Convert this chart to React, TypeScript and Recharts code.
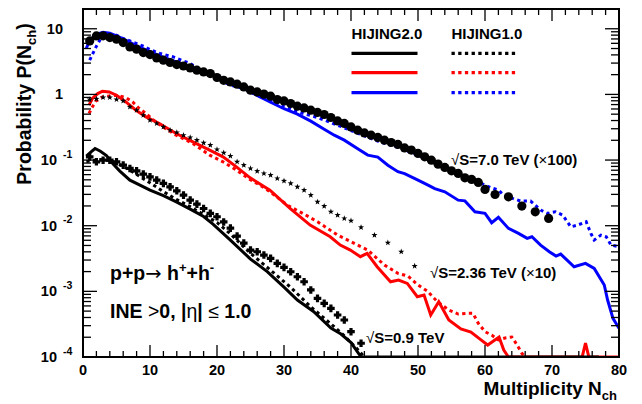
import { ComposedChart, Line, Scatter, XAxis, YAxis } from 'recharts'

const FONT = '"Liberation Sans", Arial, Helvetica, sans-serif'
const BLUE = '#0000ff'
const RED = '#ff0000'
const BLACK = '#000000'

// frame of the pad
const PAD_LEFT = 83
const PAD_TOP = 9
const PAD_RIGHT = 619
const PAD_BOTTOM = 357

type Pt = [number, number]

// multiplicity axis
const xTickValues = [0, 2, 4, 6, 8, 10, 12, 14, 16, 18, 20, 22, 24, 26, 28, 30, 32, 34, 36, 38, 40,
  42, 44, 46, 48, 50, 52, 54, 56, 58, 60, 62, 64, 66, 68, 70, 72, 74, 76, 78, 80]
const xMajorTicks = [0, 10, 20, 30, 40, 50, 60, 70, 80]

// probability axis (log), labels as base + exponent
const yMajorTicks = [0.0001, 0.001, 0.01, 0.1, 1, 10]
const yTickBase = ['10', '10', '10', '10', '1', '10']
const yTickExp = ['-4', '-3', '-2', '-1', '', '']
const yMinorSteps = [2, 3, 4, 5, 6, 7, 8, 9]
const yTickValues = [
  ...yMajorTicks,
  ...yMajorTicks.flatMap((d) => yMinorSteps.map((m) => m * d)).filter((v) => v < 20),
]

// sqrt(s) = 7.0 TeV (x100)
const hij20_7: Pt[] = [
  [0.5, 5.05], [1, 6.68], [2, 8.25], [3, 8.85], [4, 8.55], [5, 7.82], [6, 7.05], [7, 6.23], [8, 5.51],
  [10, 4.47], [12, 3.68], [14, 3.09], [16, 2.64], [18, 2.25], [20, 1.89], [22, 1.56], [24, 1.24],
  [26.5, 0.906], [28, 0.76], [30, 0.605], [32, 0.5], [34, 0.391], [36, 0.295], [37.5, 0.239], [39, 0.201],
  [41, 0.149], [42.5, 0.119], [44, 0.111], [45.5, 0.0836], [47, 0.0666], [48, 0.0621], [50, 0.0494],
  [51.5, 0.0415], [52.5, 0.0367], [54, 0.0328], [56, 0.0245], [57, 0.0239], [58.5, 0.0163], [60, 0.0154],
  [61, 0.0111], [62, 0.0134], [63.5, 0.0091], [65, 0.00764], [66.3, 0.00641], [67, 0.00678],
  [68.3, 0.00507], [69.6, 0.00401], [70.6, 0.00344], [71.3, 0.0037], [73.3, 0.00237], [75, 0.00267],
  [76.3, 0.00224], [77.8, 0.00125], [78.3, 0.000738], [79.1, 0.000388], [80, 0.000274],
]
const hij10_7: Pt[] = [
  [1, 3.32], [1.5, 4.24], [2, 5.42], [2.5, 6.68], [3, 7.5], [4, 8.25], [5, 7.96], [6, 7.1], [7, 6.52],
  [9, 5.42], [10, 4.82], [11.5, 4.2], [13.5, 3.72], [16, 2.95], [19, 1.96], [22, 1.38], [24, 1.23],
  [26, 0.972], [29, 0.71], [32, 0.542], [35, 0.445], [38, 0.34], [41, 0.256], [44, 0.194], [47, 0.156],
  [50, 0.119], [52.5, 0.0897], [55, 0.0702], [57, 0.0555], [59, 0.0461], [60.8, 0.0383], [62, 0.0348],
  [62.8, 0.0292], [64.1, 0.0261], [65.3, 0.0237], [66.8, 0.0237], [67.5, 0.0206], [68.3, 0.0173],
  [69.3, 0.0154], [70.5, 0.0163], [71.6, 0.0145], [72.8, 0.00962], [73.8, 0.0102], [75.1, 0.0115],
  [75.8, 0.00764], [76.3, 0.00604], [77.3, 0.00719], [78.1, 0.00678], [78.8, 0.00507], [80, 0.00478],
]
const data_7: Pt[] = [
  [1, 6.52], [2, 7.77], [3, 7.8], [4, 7.35], [5, 6.92], [6, 6.17], [7, 5.28], [8, 4.88], [9, 4.34],
  [10, 4.05], [11, 3.59], [12, 3.32], [13, 3.06], [14, 2.85], [15, 2.71], [16, 2.53], [17, 2.34],
  [18, 2.2], [19, 2.08], [20, 1.81], [21, 1.64], [22, 1.55], [23, 1.43], [24, 1.3], [25, 1.16],
  [26, 1.09], [27, 1.01], [28, 0.94], [29, 0.836], [30, 0.796], [31, 0.727], [32, 0.661], [33, 0.623],
  [34, 0.575], [35, 0.531], [36, 0.494], [37, 0.445], [38, 0.395], [39, 0.361], [40, 0.32], [41, 0.285],
  [42, 0.259], [43, 0.239], [44, 0.221], [45, 0.201], [46, 0.185], [47, 0.173], [48, 0.153], [49, 0.142],
  [50, 0.126], [51, 0.112], [52, 0.0995], [53, 0.0867], [54, 0.0771], [55, 0.0685], [56, 0.0625],
  [57, 0.0536], [58, 0.0507], [59, 0.0456], [60, 0.0357], [61.5, 0.0299], [63.5, 0.0275],
  [65.5, 0.0199], [67.5, 0.0163], [69.5, 0.0129],
]

// sqrt(s) = 2.36 TeV (x10)
const hij20_236: Pt[] = [
  [0.9, 0.685], [1.4, 0.867], [2.2, 1.03], [2.9, 1.12], [3.9, 1.09], [5, 0.972], [6.4, 0.769],
  [7.9, 0.575], [9.4, 0.455], [11.4, 0.361], [13.9, 0.254], [16.4, 0.189], [18.9, 0.142], [20.9, 0.112],
  [22.9, 0.0787], [24.9, 0.054], [27.9, 0.0348], [30.9, 0.0183], [33.9, 0.0102], [36.9, 0.00678],
  [38.4, 0.00507], [39.9, 0.00426], [41.4, 0.00337], [42.4, 0.00379], [43.9, 0.00237], [45.9, 0.0014],
  [47.1, 0.00149], [48.4, 0.00132], [49.9, 0.000828], [50.9, 0.000879], [51.9, 0.000436],
  [53.1, 0.000695], [54.6, 0.000366], [56.4, 0.000267], [57.9, 0.00024], [59.4, 0.000182],
  [60.4, 0.000152], [62.1, 0.000201], [62.8, 0.000128], [63.5, 0.0001], [74.5, 0.0001],
  [75, 0.000163], [75.5, 0.0001], [80, 0.0001],
]
const hij10_236: Pt[] = [
  [0.9, 0.512], [1.4, 0.646], [1.9, 0.787], [2.9, 0.916], [4.9, 0.972], [6.4, 0.897], [7.4, 0.769],
  [8.4, 0.61], [9.4, 0.512], [10.4, 0.415], [11.9, 0.32], [13.9, 0.239], [16.4, 0.179], [18.9, 0.119],
  [20.9, 0.094], [22.9, 0.0702], [24.9, 0.0507], [26.4, 0.0415], [28, 0.0324], [30.5, 0.0206],
  [33, 0.015], [35, 0.0115], [38, 0.00719], [41, 0.00507], [42.5, 0.00426], [45, 0.00251],
  [47, 0.00188], [48.5, 0.00171], [50, 0.00125], [51.4, 0.00101], [52.9, 0.000695], [54.6, 0.000519],
  [56, 0.000451], [57.4, 0.000462], [58.2, 0.000462], [59, 0.000326], [60, 0.000243], [61, 0.000216],
  [62, 0.000182], [63, 0.000195], [64, 0.000201], [64.8, 0.000152], [65.5, 0.000114], [66, 0.0001],
]
const data_236: Pt[] = [
  [1, 0.836], [2, 0.855], [3, 0.897], [4, 0.897], [5, 0.836], [6, 0.796], [7, 0.646], [8, 0.575],
  [9, 0.482], [10, 0.405], [11, 0.361], [12, 0.32], [13, 0.285], [14, 0.263], [15, 0.239], [16, 0.221],
  [17, 0.201], [18, 0.183], [19, 0.169], [20, 0.145], [21, 0.129], [22, 0.115], [23, 0.094],
  [24, 0.0836], [25, 0.0745], [26, 0.0678], [27, 0.0625], [28, 0.0589], [29, 0.0525], [30, 0.0482],
  [31, 0.0441], [32, 0.0391], [33, 0.0348], [34, 0.0292], [35, 0.0231], [36, 0.0199], [37, 0.0163],
  [38, 0.0145], [39, 0.0129], [40, 0.0119], [41.5, 0.00942], [43.5, 0.00719], [45.5, 0.0055],
  [47.5, 0.00401], [49.5, 0.00243],
]

// sqrt(s) = 0.9 TeV
const hij20_09: Pt[] = [
  [0.5, 0.115], [1.2, 0.133], [1.8, 0.15], [2.6, 0.136], [3.5, 0.117], [4.5, 0.0867], [5.5, 0.0678],
  [7, 0.0494], [8.5, 0.0415], [10, 0.0348], [12, 0.0287], [14, 0.0229], [16, 0.0179], [18, 0.0138],
  [19.4, 0.0106], [22, 0.00604], [25, 0.0031], [27.5, 0.002], [30, 0.00116], [32, 0.000738],
  [34.4, 0.000493], [37, 0.000276], [38.5, 0.000224], [40, 0.000166], [41.5, 0.0001], [77, 0.0001],
]
const hij10_09: Pt[] = [
  [0.5, 0.095], [1.5, 0.098], [2.5, 0.102], [3.5, 0.1], [4.5, 0.094], [5.5, 0.085], [7, 0.07],
  [8.5, 0.056], [10, 0.045], [12, 0.033], [14, 0.025], [16, 0.0195], [18, 0.0148], [20, 0.0112],
  [22, 0.0075], [25, 0.0038], [28, 0.0021], [31, 0.00115], [34, 0.00058], [37, 0.00032], [39, 0.00021],
  [41, 0.00013], [42, 0.0001],
]
const data_09: Pt[] = [
  [1, 0.112], [2, 0.094], [3, 0.0995], [4, 0.0995], [5, 0.094], [6, 0.0836], [7, 0.0745], [8, 0.0685],
  [9, 0.061], [10, 0.0555], [11, 0.0494], [12, 0.0441], [13, 0.0391], [14, 0.034], [15, 0.0292],
  [16, 0.0245], [17, 0.0213], [18, 0.0183], [19, 0.0154], [20, 0.0137], [21, 0.0114], [22, 0.00918],
  [23, 0.00695], [24, 0.00543], [25, 0.00426], [26, 0.00401], [27, 0.00357], [28, 0.00318],
  [29, 0.00267], [30, 0.00232], [31, 0.00199], [32, 0.00167], [33, 0.0014], [34, 0.00105],
  [35, 0.000782], [36, 0.000656], [37, 0.000551], [38, 0.000436], [39, 0.000366], [40, 0.000243],
  [41.5, 0.000162],
]

const toXY = (pts: Pt[]) => pts.map(([x, y]) => ({ x, y }))

const MAJOR_X = 12
const MINOR_X = 6
const MAJOR_Y = 14
const MINOR_Y = 8

// bottom ticks + label, and the same tick mirrored on the top edge of the frame
function BottomTick({ x, y, payload }: any) {
  const major = xMajorTicks.includes(payload.value)
  const len = major ? MAJOR_X : MINOR_X
  return (
    <g>
      <line x1={x} x2={x} y1={y} y2={y - len} stroke={BLACK} strokeWidth={1.3} />
      <line x1={x} x2={x} y1={PAD_TOP} y2={PAD_TOP + len} stroke={BLACK} strokeWidth={1.3} />
      {major && (
        <text x={x} y={y + 18} textAnchor="middle" fontFamily={FONT} fontWeight="bold" fontSize={14.5} fill={BLACK}>
          {payload.value}
        </text>
      )}
    </g>
  )
}

// left ticks + label, mirrored on the right edge
function LeftTick({ x, y, payload }: any) {
  const i = yMajorTicks.indexOf(payload.value)
  const major = i >= 0
  const len = major ? MAJOR_Y : MINOR_Y
  const exp = major ? yTickExp[i] : ''
  return (
    <g>
      <line x1={x} x2={x + len} y1={y} y2={y} stroke={BLACK} strokeWidth={1.3} />
      <line x1={PAD_RIGHT} x2={PAD_RIGHT - len} y1={y} y2={y} stroke={BLACK} strokeWidth={1.3} />
      {major && (
        <text
          x={exp ? x - 26 : x - 20}
          y={y + 5}
          textAnchor="end"
          fontFamily={FONT}
          fontWeight="bold"
          fontSize={14.5}
          fill={BLACK}
        >
          {yTickBase[i]}
        </text>
      )}
      {exp && (
        <text x={x - 20} y={y - 2.5} fontFamily={FONT} fontWeight="bold" fontSize={10.5} fill={BLACK}>
          {exp}
        </text>
      )}
    </g>
  )
}

const circle = (p: any) => <circle cx={p.cx} cy={p.cy} r={4.6} fill={BLACK} />

const star = (p: any) => {
  const pts: string[] = []
  for (let k = 0; k < 10; k++) {
    const r = k % 2 === 0 ? 3.2 : 1.3
    const a = -Math.PI / 2 + (k * Math.PI) / 5
    pts.push(`${p.cx + r * Math.cos(a)},${p.cy + r * Math.sin(a)}`)
  }
  return <polygon points={pts.join(' ')} fill={BLACK} />
}

const cross = (p: any) => {
  const a = 3.8
  const w = 1.6
  const { cx, cy } = p
  const d = `M${cx - w},${cy - a}H${cx + w}V${cy - w}H${cx + a}V${cy + w}H${cx + w}V${cy + a}H${cx - w}V${cy + w}H${cx - a}V${cy - w}H${cx - w}Z`
  return <path d={d} fill={BLACK} />
}

const DOTS = '3.3 3.4'

const axisCommon = {
  interval: 0 as const,
  tickLine: false,
  tickSize: 0,
  tickMargin: 0,
  axisLine: false,
  allowDataOverflow: true,
}

export default function App() {
  const lineProps = {
    dataKey: 'y',
    type: 'linear' as const,
    dot: false,
    activeDot: false,
    isAnimationActive: false,
    strokeWidth: 3,
  }
  return (
    <div style={{ position: 'absolute', left: 0, top: 0, width: 642, height: 404, background: '#fff' }}>
      <ComposedChart
        width={642}
        height={404}
        margin={{ top: PAD_TOP, right: 642 - PAD_RIGHT, bottom: 0, left: 0 }}
      >
        <XAxis
          {...axisCommon}
          type="number"
          dataKey="x"
          domain={[0, 80]}
          ticks={xTickValues}
          tick={BottomTick}
          height={404 - PAD_BOTTOM}
        />
        <YAxis
          {...axisCommon}
          type="number"
          scale="log"
          domain={[0.0001, 20]}
          ticks={yTickValues}
          tick={LeftTick}
          width={PAD_LEFT}
        />
        <Line {...lineProps} data={toXY(hij20_7)} stroke={BLUE} />
        <Line {...lineProps} data={toXY(hij10_7)} stroke={BLUE} strokeDasharray={DOTS} />
        <Line {...lineProps} data={toXY(hij20_236)} stroke={RED} />
        <Line {...lineProps} data={toXY(hij10_236)} stroke={RED} strokeDasharray={DOTS} />
        <Line {...lineProps} data={toXY(hij10_09)} stroke={BLACK} strokeDasharray={DOTS} />
        <Line {...lineProps} data={toXY(hij20_09)} stroke={BLACK} />
        <Scatter data={toXY(data_7)} dataKey="y" shape={circle} isAnimationActive={false} />
        <Scatter data={toXY(data_236)} dataKey="y" shape={star} isAnimationActive={false} />
        <Scatter data={toXY(data_09)} dataKey="y" shape={cross} isAnimationActive={false} />
      </ComposedChart>

      <svg
        width={642}
        height={404}
        style={{ position: 'absolute', left: 0, top: 0, pointerEvents: 'none' }}
        fontFamily={FONT}
        fontWeight="bold"
        fill={BLACK}
      >
        {/* pad frame */}
        <rect
          x={PAD_LEFT}
          y={PAD_TOP}
          width={PAD_RIGHT - PAD_LEFT}
          height={PAD_BOTTOM - PAD_TOP}
          fill="none"
          stroke={BLACK}
          strokeWidth={2}
        />

        {/* legend */}
        <text x={351.5} y={39} fontSize={15}>HIJING2.0</text>
        <text x={451.5} y={39} fontSize={15}>HIJING1.0</text>
        <line x1={351.5} x2={417.5} y1={53.3} y2={53.3} stroke={BLACK} strokeWidth={3.3} />
        <line x1={351.5} x2={417.5} y1={72.7} y2={72.7} stroke={RED} strokeWidth={3.3} />
        <line x1={351.5} x2={417.5} y1={92.7} y2={92.7} stroke={BLUE} strokeWidth={3.3} />
        <line x1={451.5} x2={518} y1={53.3} y2={53.3} stroke={BLACK} strokeWidth={3.3} strokeDasharray={DOTS} />
        <line x1={451.5} x2={518} y1={72.7} y2={72.7} stroke={RED} strokeWidth={3.3} strokeDasharray={DOTS} />
        <line x1={451.5} x2={518} y1={92.7} y2={92.7} stroke={BLUE} strokeWidth={3.3} strokeDasharray={DOTS} />

        {/* energy labels */}
        <text x={451} y={165} fontSize={15}>
          <tspan fontWeight="normal">√</tspan>S=7.0 TeV (<tspan fontWeight="normal">×</tspan>100)
        </text>
        <text x={430} y={278} fontSize={15}>
          <tspan fontWeight="normal">√</tspan>S=2.36 TeV (<tspan fontWeight="normal">×</tspan>10)
        </text>
        <text x={366} y={343} fontSize={15}>
          <tspan fontWeight="normal">√</tspan>S=0.9 TeV
        </text>

        {/* reaction labels */}
        <text x={110} y={280} fontSize={19.5}>
          p+p<tspan fontWeight="normal" fontFamily="DejaVu Sans">→</tspan> h<tspan dy={-8} fontSize={13}>+</tspan>
          <tspan dy={8}>+h</tspan>
          <tspan dy={-8} fontSize={13}>-</tspan>
        </text>
        <text x={110} y={318} fontSize={19.5}>
          INE <tspan fontWeight="normal">&gt;</tspan>0, |<tspan fontWeight="normal">η</tspan>|{' '}
          <tspan fontWeight="normal">≤</tspan> 1.0
        </text>

        {/* axis titles */}
        <text transform="translate(31,104) rotate(-90)" textAnchor="middle" fontSize={19.5}>
          Probability P(N<tspan dy={5} fontSize={13}>ch</tspan>
          <tspan dy={-5}>)</tspan>
        </text>
        <text x={617} y={395} textAnchor="end" fontSize={19}>
          Multiplicity N<tspan dy={5} fontSize={13}>ch</tspan>
        </text>
      </svg>
    </div>
  )
}
